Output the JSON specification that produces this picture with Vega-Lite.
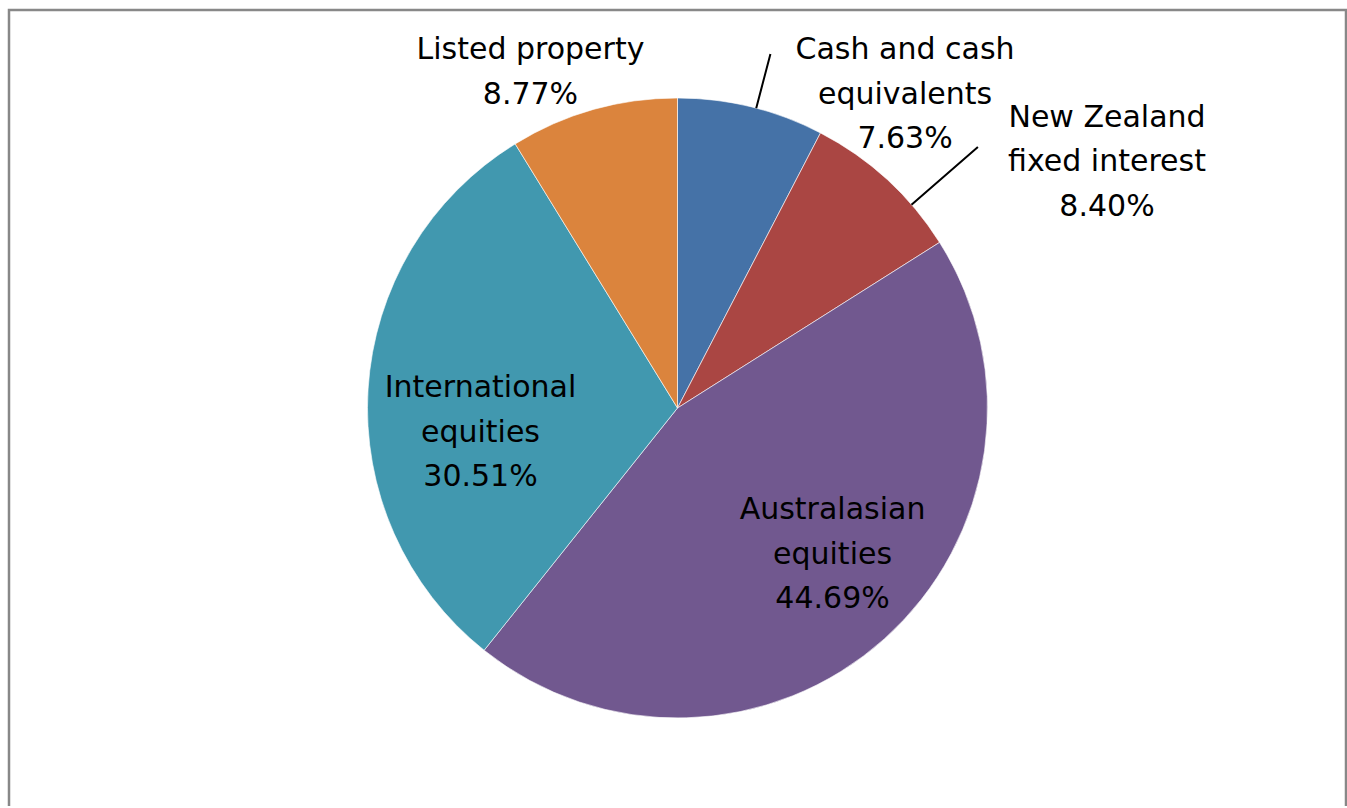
{
  "$schema": "https://vega.github.io/schema/vega-lite/v6.json",
  "width": 1337,
  "height": 796,
  "autosize": {"type": "none"},
  "padding": {"left": 9, "top": 10, "right": 1, "bottom": 2},
  "background": "white",
  "view": {"style": "cell", "stroke": "#888888", "strokeWidth": 2.5, "strokeDash": [2133, 1337, 800, 0]},
  "config": {"view": {"stroke": "#888888", "strokeWidth": 2.5, "strokeDash": [2133, 1337, 800, 0]}},
  "data": {"values": [
    {"category": "Cash and cash equivalents", "label": "Cash and cash\nequivalents\n7.63%", "value": 7.63, "rank": 1},
    {"category": "New Zealand fixed interest", "label": "New Zealand\nfixed interest\n8.40%", "value": 8.40, "rank": 2},
    {"category": "Australasian equities", "label": "Australasian\nequities\n44.69%", "value": 44.69, "rank": 3},
    {"category": "International equities", "label": "International\nequities\n30.51%", "value": 30.51, "rank": 4},
    {"category": "Listed property", "label": "Listed property\n8.77%", "value": 8.77, "rank": 5}
  ]},
  "encoding": {
    "theta": {"field": "value", "type": "quantitative", "stack": true},
    "order": {"field": "rank", "type": "quantitative"}
  },
  "layer": [
    {
      "mark": {"type": "arc", "radius": 310, "stroke": "#ffffff", "strokeWidth": 0.6},
      "encoding": {
        "color": {
          "field": "category", "type": "nominal", "legend": null,
          "scale": {
            "domain": ["Cash and cash equivalents", "New Zealand fixed interest", "Australasian equities", "International equities", "Listed property"],
            "range": ["#4572A7", "#AA4643", "#71588F", "#4198AF", "#DB843D"]
          }
        }
      }
    },
    {
      "mark": {"type": "arc", "radius": 366, "radius2": 310, "padAngle": 3, "thetaOffset": 0.017, "theta2Offset": 0.017, "filled": false, "stroke": "#000000", "strokeWidth": 2},
      "encoding": {"strokeOpacity": {"condition": {"test": "datum.category === 'Cash and cash equivalents'", "value": 1}, "value": 0}}
    },
    {
      "mark": {"type": "arc", "radius": 398, "radius2": 310, "padAngle": 3, "thetaOffset": 0.112, "theta2Offset": 0.112, "filled": false, "stroke": "#000000", "strokeWidth": 2},
      "encoding": {"strokeOpacity": {"condition": {"test": "datum.category === 'New Zealand fixed interest'", "value": 1}, "value": 0}}
    },
    {
      "mark": {"type": "text", "radius": 423.9, "thetaOffset": 0.3269, "font": "DejaVu Sans", "fontSize": 30, "lineHeight": 44.5, "lineBreak": "\n", "align": "center", "baseline": "middle", "color": "#000000"},
      "encoding": {"text": {"field": "label", "type": "nominal"}, "opacity": {"condition": {"test": "datum.category === 'Cash and cash equivalents'", "value": 1}, "value": 0}}
    },
    {
      "mark": {"type": "text", "radius": 518.4, "thetaOffset": 0.2332, "font": "DejaVu Sans", "fontSize": 30, "lineHeight": 44.5, "lineBreak": "\n", "align": "center", "baseline": "middle", "color": "#000000"},
      "encoding": {"text": {"field": "label", "type": "nominal"}, "opacity": {"condition": {"test": "datum.category === 'New Zealand fixed interest'", "value": 1}, "value": 0}}
    },
    {
      "mark": {"type": "text", "radius": 185.6, "thetaOffset": -0.2583, "font": "DejaVu Sans", "fontSize": 30, "lineHeight": 44.5, "lineBreak": "\n", "align": "center", "baseline": "middle", "color": "#000000"},
      "encoding": {"text": {"field": "label", "type": "nominal"}, "opacity": {"condition": {"test": "datum.category === 'Australasian equities'", "value": 1}, "value": 0}}
    },
    {
      "mark": {"type": "text", "radius": 198.0, "thetaOffset": 0.0384, "font": "DejaVu Sans", "fontSize": 30, "lineHeight": 44.5, "lineBreak": "\n", "align": "center", "baseline": "middle", "color": "#000000"},
      "encoding": {"text": {"field": "label", "type": "nominal"}, "opacity": {"condition": {"test": "datum.category === 'International equities'", "value": 1}, "value": 0}}
    },
    {
      "mark": {"type": "text", "radius": 387.0, "thetaOffset": -0.1142, "font": "DejaVu Sans", "fontSize": 30, "lineHeight": 44.5, "lineBreak": "\n", "align": "center", "baseline": "middle", "color": "#000000"},
      "encoding": {"text": {"field": "label", "type": "nominal"}, "opacity": {"condition": {"test": "datum.category === 'Listed property'", "value": 1}, "value": 0}}
    }
  ]
}
